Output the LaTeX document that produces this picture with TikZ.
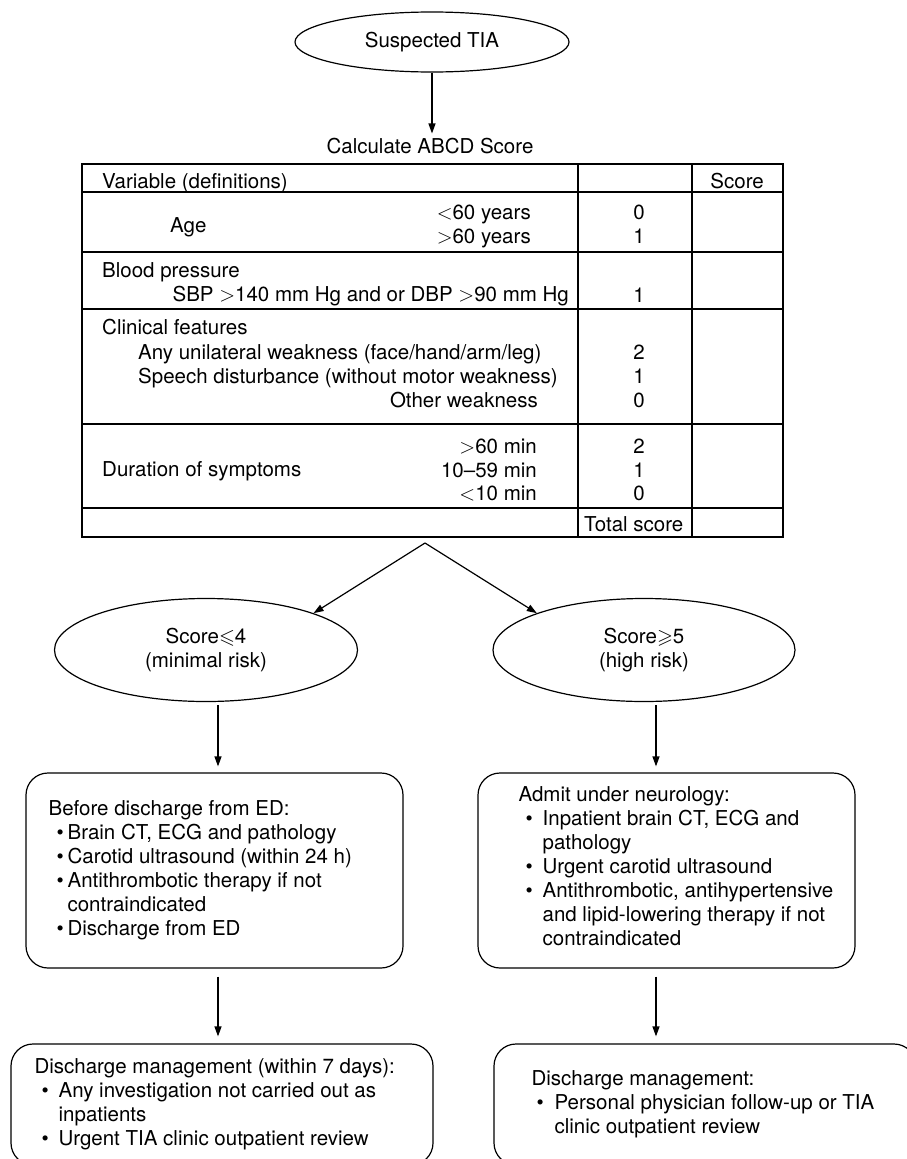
\documentclass[tikz,border=0pt]{standalone}
\usepackage{amssymb}
\usepackage{fontspec}
\setmainfont{TeX Gyre Heros}
\usetikzlibrary{arrows.meta,positioning}
\usetikzlibrary{shapes.geometric}

% bullet: left gap, text indent
\newcommand{\bul}[2]{\hspace*{#1}\makebox[\dimexpr#2-#1\relax][l]{\textbullet}}

\begin{document}
\begin{tikzpicture}[
    x=1pt, y=1pt,
    font=\fontsize{20.5}{24}\selectfont,
    oval/.style={ellipse, draw, line width=1.2pt, inner sep=0pt, align=center},
    rbox/.style={rectangle, rounded corners=22pt, draw, line width=1.2pt, inner sep=0pt},
    boxtext/.style={align=left, inner sep=0pt},
    tabline/.style={line width=1.5pt},
    lcell/.style={anchor=base west, inner sep=0pt},
    rcell/.style={anchor=base east, inner sep=0pt},
    pts/.style={anchor=base, inner sep=0pt},
    flow/.style={-{Triangle[length=10pt, width=7pt]}, line width=1.2pt},
  ]
  \useasboundingbox (0,0) rectangle (907,-1159);
  \clip (0,0) rectangle (907,-1159);
  \fill[white] (0,0) rectangle (907,-1159);

  % Start
  \node[oval, minimum width=274pt, minimum height=60pt] (susp) at (432,-42) {Suspected TIA};
  \node[anchor=base, inner sep=4pt] (calc) at (430,-153) {Calculate ABCD Score};
  \draw[flow] (susp.south) -- (susp.south |- calc.north);

  % Score table
  \draw[tabline] (82,-164) rectangle (783,-537);
  \foreach \y in {192,252,309,424,508}
    \draw[tabline] (82,-\y) -- (783,-\y);
  \foreach \x in {578,692}
    \draw[tabline] (\x,-164) -- (\x,-537);

  \node[lcell] (varhead) at (102,-188) {Variable (definitions)};
  \node[rcell] (scorehead) at (764,-188) {Score};
  \node[lcell] (age) at (170,-232) {Age};
  \node[rcell] (ageyoung) at (531,-219) {$<$60 years};
  \node[rcell] (ageold) at (531,-243) {$>$60 years};
  \node[lcell] (bp) at (102,-277) {Blood pressure};
  \node[rcell] (bpdef) at (569,-301) {SBP $>$140 mm Hg and or DBP $>$90 mm Hg};
  \node[lcell] (clin) at (102,-334) {Clinical features};
  \node[lcell] (clinweak) at (138,-359) {Any unilateral weakness (face/hand/arm/leg)};
  \node[lcell] (clinspeech) at (138,-383) {Speech disturbance (without motor weakness)};
  \node[rcell] (clinother) at (538,-407) {Other weakness};
  \node[lcell] (dur) at (102,-476) {Duration of symptoms};
  \node[rcell] (durlong) at (537,-453) {$>$60 min};
  \node[rcell] (durmid) at (537,-477) {10–59 min};
  \node[rcell] (durshort) at (537,-500) {$<$10 min};
  \node[lcell] (total) at (584,-531) {Total score};
  \foreach \v/\y in {0/219,1/243,1/302,2/359,1/383,0/407,2/453,1/477,0/500}
    \node[pts] (pt\y) at (639,-\y) {\v};

  % Risk groups
  \node[oval, minimum width=303pt, minimum height=103pt] (lowrisk) at (206,-650) {Score$\leqslant$4\\(minimal risk)};
  \node[oval, minimum width=302pt, minimum height=103pt] (highrisk) at (644,-650) {Score$\geqslant$5\\(high risk)};
  \coordinate (split) at (425,-543);
  \draw[flow] (split) -- (lowrisk.north east);
  \draw[flow] (split) -- (highrisk.north west);

  % Management
  \node[rbox, minimum width=377pt, minimum height=195pt] (lowbox) at (214.5,-870.5) {};
  \node[boxtext, right=23pt of lowbox.west] (lowtext) {Before discharge from ED:\\
    \bul{8pt}{19pt}Brain CT, ECG and pathology\\
    \bul{8pt}{19pt}Carotid ultrasound (within 24 h)\\
    \bul{8pt}{19pt}Antithrombotic therapy if not\\
    \hspace*{19pt}contraindicated\\
    \bul{8pt}{19pt}Discharge from ED};

  \node[rbox, minimum width=377pt, minimum height=195pt] (highbox) at (666.5,-870.5) {};
  \node[boxtext, right=41pt of highbox.west, yshift=4pt] (hightext) {Admit under neurology:\\
    \bul{7pt}{24pt}Inpatient brain CT, ECG and\\
    \hspace*{24pt}pathology\\
    \bul{7pt}{24pt}Urgent carotid ultrasound\\
    \bul{7pt}{24pt}Antithrombotic, antihypertensive\\
    \hspace*{24pt}and lipid-lowering therapy if not\\
    \hspace*{24pt}contraindicated};

  % Discharge
  \node[rbox, minimum width=422pt, minimum height=121pt] (lowdis) at (222,-1104.5) {};
  \node[boxtext, right=24pt of lowdis.west] (lowdistext) {Discharge management (within 7 days):\\
    \bul{7pt}{24pt}Any investigation not carried out as\\
    \hspace*{24pt}inpatients\\
    \bul{7pt}{24pt}Urgent TIA clinic outpatient review};

  \node[rbox, minimum width=422pt, minimum height=121pt] (highdis) at (705,-1104.5) {};
  \node[boxtext, right=38pt of highdis.west] (highdistext) {Discharge management:\\
    \bul{5pt}{23pt}Personal physician follow-up or TIA\\
    \hspace*{23pt}clinic outpatient review};

  % connection lines
  \draw[flow, shorten <=3pt, shorten >=6pt] ([xshift=12pt]lowrisk.south) -- ([xshift=3.5pt]lowbox.north);
  \draw[flow, shorten <=8pt, shorten >=7pt] ([xshift=3.5pt]lowbox.south) -- ([xshift=-4pt]lowdis.north);
  \draw[flow, shorten <=3pt, shorten >=6pt] ([xshift=12pt]highrisk.south) -- ([xshift=-10.5pt]highbox.north);
  \draw[flow, shorten <=8pt, shorten >=7pt] ([xshift=-10.5pt]highbox.south) -- ([xshift=-49pt]highdis.north);
\end{tikzpicture}
\end{document}
